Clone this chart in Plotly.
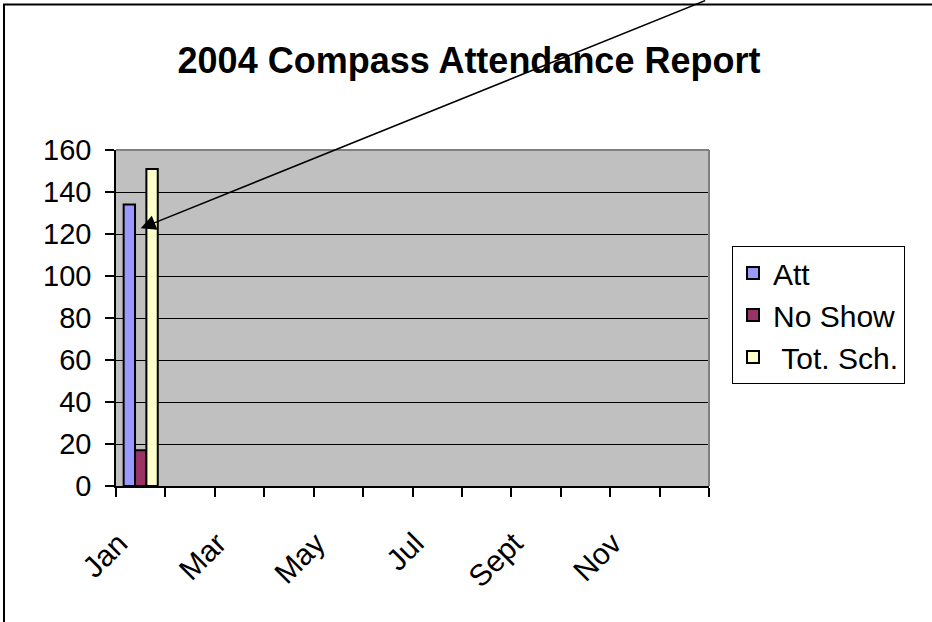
import plotly.graph_objects as go

months = ["Jan", "Feb", "Mar", "Apr", "May", "Jun", "Jul", "Aug", "Sept", "Oct", "Nov", "Dec"]
tick_text = ["Jan", "", "Mar", "", "May", "", "Jul", "", "Sept", "", "Nov", ""]
att = [134, None, None, None, None, None, None, None, None, None, None, None]
no_show = [17, None, None, None, None, None, None, None, None, None, None, None]
tot_sch = [151, None, None, None, None, None, None, None, None, None, None, None]
series_names = ["Att", "No Show", "\u00a0Tot. Sch."]
series_colors = ["#9999FF", "#993366", "#FFFFCC"]
y_ticks = [0, 20, 40, 60, 80, 100, 120, 140, 160]
arrow_target = ("Jan", 122.7)

W, H = 932, 622
L, R, T, B = 116, 709, 149.5, 485.6
FONT = "Liberation Sans, Arial, sans-serif"

fig = go.Figure()
for i, (name, vals, col) in enumerate(zip(series_names, [att, no_show, tot_sch], series_colors)):
    fig.add_trace(go.Bar(
        x=months, y=vals, name=name, legendgroup=f"g{i}",
        marker=dict(color=col, line=dict(color="black", width=2)),
    ))

fig.update_layout(
    width=W, height=H,
    margin=dict(l=L, r=W - R, t=T, b=H - B, pad=0),
    paper_bgcolor="white",
    plot_bgcolor="#C0C0C0",
    barmode="group",
    bargap=0.31,
    bargroupgap=0,
    font=dict(family=FONT, color="black", size=29),
    title=dict(
        text="<b>2004 Compass Attendance Report</b>",
        font=dict(family=FONT, size=36, color="black"),
        x=469 / W, xanchor="center", xref="container",
        y=1 - 60 / H, yanchor="middle", yref="container",
    ),
    legend=dict(
        x=732 / W, xanchor="left", xref="container",
        y=1 - 246 / H, yanchor="top", yref="container",
        bgcolor="white", bordercolor="black", borderwidth=1,
        font=dict(family=FONT, size=30, color="black"),
        tracegroupgap=26,
        traceorder="normal",
    ),
    showlegend=True,
)

fig.update_xaxes(
    type="category",
    categoryorder="array", categoryarray=months,
    tickvals=months, ticktext=tick_text,
    tickson="boundaries",
    ticks="outside", ticklen=9, tickcolor="black", tickwidth=1.5,
    tickangle=-45,
    ticklabelstandoff=26, ticklabelshift=-22,
    tickfont=dict(family=FONT, size=30, color="black"),
    showline=True, linecolor="black", linewidth=1.5,
    showgrid=False,
    range=[-0.5, 11.5],
)
fig.update_yaxes(
    range=[0, 160],
    tickvals=y_ticks,
    ticks="outside", ticklen=9, tickcolor="black", tickwidth=1.5,
    ticklabelstandoff=8,
    tickfont=dict(family=FONT, size=29, color="black"),
    showline=True, linecolor="black", linewidth=1.5,
    showgrid=True, gridcolor="black", gridwidth=1,
    zeroline=False,
)

# plot area border (top and right), gray like the original
fig.add_shape(type="line", xref="paper", yref="paper", x0=0, x1=1, y0=1, y1=1,
              line=dict(color="#808080", width=2))
fig.add_shape(type="line", xref="paper", yref="paper", x0=1, x1=1, y0=0, y1=1,
              line=dict(color="#808080", width=2))

# outer chart border
pw, ph = R - L, B - T
fig.add_shape(type="rect", xref="paper", yref="paper",
              x0=(4 - L) / pw, x1=(960 - L) / pw,
              y0=(B - 660) / ph, y1=(B - 4) / ph,
              line=dict(color="black", width=2), fillcolor="rgba(0,0,0,0)", layer="above")

# arrow pointing at the Jan bars
fig.add_annotation(
    x=arrow_target[0], y=arrow_target[1], xref="x", yref="y",
    text="", showarrow=True,
    ax=566, ay=-240, axref="pixel", ayref="pixel",
    arrowhead=2, arrowsize=2, arrowwidth=1.5, arrowcolor="black", standoff=0,
)

fig.write_html(
    "out.html",
    config={"displayModeBar": False},
    post_script="document.body.style.margin='0';document.body.style.overflow='hidden';",
)
